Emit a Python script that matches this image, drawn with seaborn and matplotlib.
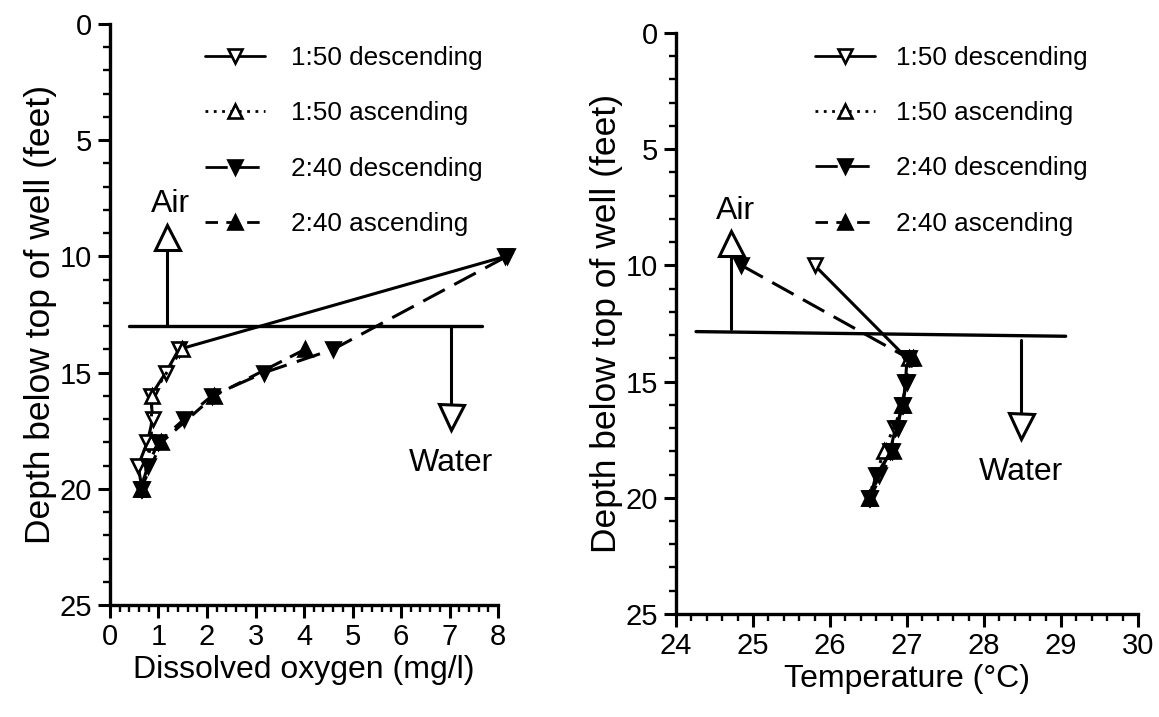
import matplotlib
matplotlib.use("Agg")
import matplotlib.pyplot as plt
import seaborn as sns
import numpy as np
from matplotlib.ticker import MultipleLocator

# ---------------- data ----------------
depth_desc = [10, 14, 15, 16, 17, 18, 19, 20]
depth_asc = [20, 18, 16, 14]

do_150_desc = [8.15, 1.42, 1.15, 0.84, 0.88, 0.77, 0.58, 0.66]
do_150_asc = [0.66, 0.85, 0.86, 1.48]
do_240_desc = [8.18, 4.6, 3.18, 2.1, 1.53, 1.0, 0.78, 0.64]
do_240_asc = [0.64, 1.06, 2.15, 4.02]

t_150_desc = [25.8, 27.0, 26.98, 26.95, 26.85, 26.78, 26.63, 26.5]
t_150_asc = [26.5, 26.7, 26.95, 27.02]
t_240_desc = [24.85, 27.02, 27.0, 26.93, 26.88, 26.8, 26.6, 26.52]
t_240_asc = [26.52, 26.82, 26.93, 27.08]

labels = ["1:50 descending", "1:50 ascending", "2:40 descending", "2:40 ascending"]

# water surface line and air/water arrows
do_surface_x = [0.40, 7.67]
do_surface_y = [13.0, 13.0]
t_surface_x = [24.26, 29.06]
t_surface_y = [12.85, 13.05]

do_air = (1.17, 13.0, 9.15)
do_water = (7.03, 13.1, 16.9)
t_air = (24.72, 12.75, 9.05)
t_water = (28.48, 13.2, 16.9)

# ---------------- style ----------------
sns.set_theme(style="ticks", rc={"text.color": "black", "axes.labelcolor": "black",
                                 "xtick.color": "black", "ytick.color": "black",
                                 "axes.edgecolor": "black"})
plt.rcParams['font.family'] = ['Liberation Sans', 'DejaVu Sans']
plt.rcParams['axes.linewidth'] = 2.0

fig = plt.figure(figsize=(11.59, 7.17), dpi=100)
axL = fig.add_axes([0.0949, 0.1562, 0.3348, 0.8103])
axR = fig.add_axes([0.5833, 0.1437, 0.3986, 0.8103])

LW = 2.2
MS = 10.5
styles = [
    dict(linestyle="-", marker="v", mfc="white"),
    dict(linestyle=(0, (1, 2)), marker="^", mfc="white"),
    dict(linestyle=(0, (8, 3.5)), marker="v", mfc="black"),
    dict(linestyle=(0, (4.5, 3)), marker="^", mfc="black"),
]


def draw_panel(ax, xs_list, ys_list, surf_x, surf_y, air, water, xlabel, xlim, xmajor,
               legend_xy, air_dx, textpad):
    for xs, ys, lab, st in zip(xs_list, ys_list, labels, styles):
        sns.lineplot(x=xs, y=ys, sort=False, estimator=None, ax=ax, color="black",
                     linewidth=LW, linestyle=st["linestyle"], marker=st["marker"],
                     markersize=MS, markerfacecolor=st["mfc"], markeredgecolor="black",
                     markeredgewidth=1.9, label=lab, clip_on=False)
    ax.plot(surf_x, surf_y, color="black", linewidth=2.4, clip_on=False)
    # Air arrow
    ax.plot([air[0], air[0]], [air[1], air[2] + 0.4], color="black", linewidth=2.2)
    ax.plot([air[0]], [air[2]], marker="^", markersize=18, mfc="white", mec="black",
            mew=2.2, linestyle="none")
    ax.text(air[0] + air_dx, air[2] - 1.4, "Air", ha="center", va="center", fontsize=23)
    # Water arrow
    ax.plot([water[0], water[0]], [water[1], water[2] - 0.4], color="black", linewidth=2.2)
    ax.plot([water[0]], [water[2]], marker="v", markersize=18, mfc="white", mec="black",
            mew=2.2, linestyle="none")
    ax.text(water[0], water[2] + 2.0, "Water", ha="center", va="center", fontsize=23)

    ax.set_xlim(*xlim)
    ax.set_ylim(25, 0)
    ax.xaxis.set_major_locator(MultipleLocator(xmajor))
    ax.xaxis.set_minor_locator(MultipleLocator(0.2 * xmajor))
    ax.yaxis.set_major_locator(MultipleLocator(5))
    ax.yaxis.set_minor_locator(MultipleLocator(1))
    ax.tick_params(axis="both", which="major", direction="out", length=9, width=2.2,
                   labelsize=21, colors="black", pad=4)
    ax.tick_params(axis="both", which="minor", direction="out", length=5, width=1.7)
    sns.despine(ax=ax)
    ax.spines["left"].set_linewidth(2.4)
    ax.spines["bottom"].set_linewidth(2.4)
    ax.set_xlabel(xlabel, fontsize=23, labelpad=3)
    ax.set_ylabel("Depth below top of well (feet)", fontsize=25.5, labelpad=2)
    leg = ax.legend(loc="upper left", bbox_to_anchor=legend_xy, frameon=False,
                    fontsize=18.8, handlelength=2.3, handletextpad=textpad, labelspacing=1.2,
                    numpoints=1, markerscale=0.9, borderpad=0, borderaxespad=0)
    for h in leg.legend_handles:
        h.set_linewidth(2.0)
    ax.grid(False)


draw_panel(axL, [do_150_desc, do_150_asc, do_240_desc, do_240_asc],
           [depth_desc, depth_asc, depth_desc, depth_asc],
           do_surface_x, do_surface_y, do_air, do_water,
           "Dissolved oxygen (mg/l)", (0, 8), 1, (0.245, 0.962), 0.07, 1.0)
draw_panel(axR, [t_150_desc, t_150_asc, t_240_desc, t_240_asc],
           [depth_desc, depth_asc, depth_desc, depth_asc],
           t_surface_x, t_surface_y, t_air, t_water,
           "Temperature (°C)", (24, 30), 1, (0.30, 0.978), 0.05, 0.8)

fig.savefig("out.png", dpi=100, facecolor="white")
